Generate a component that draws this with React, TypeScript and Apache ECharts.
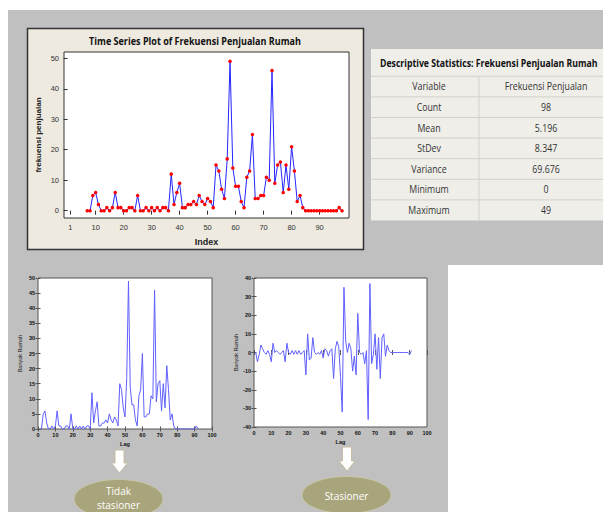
import React, { useEffect, useRef } from "react";
import * as echarts from "echarts";

// Frekuensi penjualan rumah, Index 7..98 (Minitab plot) = Lag 1..92
const frekuensi = [
  0, 0, 5, 6, 2, 0, 0, 1, 0, 1, 6, 1, 1, 0, 0, 1, 1, 0, 5, 0, 0, 1, 0, 1, 0, 1, 0, 1, 1, 0,
  12, 2, 6, 9, 1, 1, 2, 2, 3, 2, 5, 3, 2, 4, 3, 1,
  15, 13, 7, 4, 17, 49, 14, 8, 8, 3, 1, 11, 13, 25,
  4, 4, 5, 5, 11, 10, 46, 9, 15, 16, 6, 15, 7, 21, 13, 3, 5, 1,
  0, 0, 0, 0, 0, 0, 0, 0, 0, 0, 0, 0, 1, 0,
];
const firstIndex = 7;

// Differenced series, Lag 1..91
const differenced = [
  0, -5, -1, 4, 2, 0, -1, 1, -1, -5, 5, 0, 1, 0, -1, 0, 1, -5, 5, 0, -1, 1, -1, 1, -1, 1, -1, 0, 1,
  -12, 10, -4, -3, 8, 0, -1, 0, -1, 1, -3, 2, 1, -2, 1, 2,
  -14, 2, 6, 3, -13, -32, 35, 6, 0, 5, 2, -10, -2, -12, 21, 0, -1, 0, -6, 1,
  -36, 37, -6, -1, 10, -9, 8, -14, 8, 10, -2, 4, 1,
  0, 0, 0, 0, 0, 0, 0, 0, 0, 0, 0, -1, 1,
];

const topXTicks = [1, 10, 20, 30, 40, 50, 60, 70, 80, 90];
const topYTicks = [0, 10, 20, 30, 40, 50];

const statLabels = ["Variable", "Count", "Mean", "StDev", "Variance", "Minimum", "Maximum"];
const statValues = ["Frekuensi Penjualan", "98", "5.196", "8.347", "69.676", "0", "49"];

const W = 603;
const H = 512;

export default function App() {
  const ref = useRef<HTMLDivElement>(null);

  useEffect(() => {
    document.body.style.margin = "0";
    if (!ref.current) return;
    const chart = echarts.init(ref.current, undefined, { renderer: "svg", width: W, height: H });

    const sans = "'Liberation Sans', Arial, sans-serif";
    const calib = "'Open Sans', 'Noto Sans', sans-serif";

    const smallLbl = { fontSize: 5.5, fontWeight: "bold" as const, color: "#111", fontFamily: sans };

    const mirrorX = (gi: number, min: number, max: number, interval: number) => ({
      type: "value", gridIndex: gi, position: "top", min, max, interval,
      axisLine: { show: false }, axisLabel: { show: false }, splitLine: { show: false },
      axisTick: { inside: true, length: 2.5, lineStyle: { color: "#555" } },
    });
    const mirrorY = (gi: number, min: number, max: number, interval: number) => ({
      type: "value", gridIndex: gi, position: "right", min, max, interval,
      axisLine: { show: false }, axisLabel: { show: false }, splitLine: { show: false },
      axisTick: { inside: true, length: 2.5, lineStyle: { color: "#555" } },
    });

    const tableLeft = 371;
    const tableTop = 49;
    const headBottom = 76.3;
    const rowH = 20.6;
    const colSep = 479;
    const tableGraphics: any[] = [
      { type: "rect", z: -18, shape: { x: tableLeft, y: tableTop, width: W - tableLeft, height: headBottom + rowH * 7 - tableTop }, style: { fill: "#efeee9" } },
      {
        type: "text", z: 10, x: 380, y: 63.5, scaleX: 0.83,
        style: { text: "Descriptive Statistics: Frekuensi Penjualan Rumah", font: `bold 10.5px ${calib}`, fill: "#111", textVerticalAlign: "middle" },
      },
      { type: "line", z: 5, shape: { x1: colSep, y1: headBottom, x2: colSep, y2: headBottom + rowH * 7 }, style: { stroke: "#d3d1ca", lineWidth: 1 } },
    ];
    for (let k = 0; k <= 6; k++) {
      tableGraphics.push({ type: "line", z: 5, shape: { x1: tableLeft, y1: headBottom + rowH * k, x2: W, y2: headBottom + rowH * k }, style: { stroke: "#d3d1ca", lineWidth: 1 } });
    }
    statLabels.forEach((lab, k) => {
      const cy = headBottom + rowH * (k + 0.5);
      tableGraphics.push({ type: "text", z: 10, x: 429, y: cy, scaleX: 0.88, style: { text: lab, font: `10px ${calib}`, fill: "#333", textAlign: "center", textVerticalAlign: "middle" } });
      tableGraphics.push({ type: "text", z: 10, x: 546, y: cy, scaleX: 0.88, style: { text: statValues[k], font: `10px ${calib}`, fill: "#333", textAlign: "center", textVerticalAlign: "middle" } });
    });

    const arrow = (cx: number, top: number, shaftEnd: number, tip: number) => ({
      type: "polygon", z: 10,
      shape: { points: [[cx - 4.5, top], [cx + 4.5, top], [cx + 4.5, shaftEnd], [cx + 8, shaftEnd], [cx, tip], [cx - 8, shaftEnd], [cx - 4.5, shaftEnd]] },
      style: { fill: "#ffffff", stroke: "#c8bea4", lineWidth: 1 },
    });

    chart.setOption({
      animation: false,
      backgroundColor: "#ffffff",
      graphic: [
        { type: "rect", z: -20, shape: { x: 8, y: 10, width: W - 8, height: H - 10 }, style: { fill: "#c0c0c0" } },
        { type: "rect", z: -19, shape: { x: 448, y: 265, width: W - 448, height: H - 265 }, style: { fill: "#ffffff" } },
        { type: "rect", z: -18, shape: { x: 27.5, y: 28.5, width: 336, height: 221 }, style: { fill: "#eeeae0", stroke: "#333", lineWidth: 1.5 } },
        {
          type: "text", z: 10, x: 195, y: 41, scaleX: 0.86,
          style: { text: "Time Series Plot of Frekuensi Penjualan Rumah", font: `bold 10.5px ${calib}`, fill: "#111", textAlign: "center", textVerticalAlign: "middle" },
        },
        ...tableGraphics,
        arrow(119.5, 450, 463, 473),
        arrow(347, 447, 461, 471),
        { type: "ellipse", z: 10, shape: { cx: 118.5, cy: 499, rx: 44.5, ry: 19.5 }, style: { fill: "#a8a47b", stroke: "#cac7a8", lineWidth: 1 } },
        { type: "ellipse", z: 10, shape: { cx: 346.5, cy: 495, rx: 44.5, ry: 18.5 }, style: { fill: "#a8a47b", stroke: "#cac7a8", lineWidth: 1 } },
        { type: "text", z: 11, x: 118.5, y: 491, style: { text: "Tidak", font: `10px ${calib}`, fill: "#ffffff", textAlign: "center", textVerticalAlign: "middle" } },
        { type: "text", z: 11, x: 118.5, y: 504.5, style: { text: "stasioner", font: `10px ${calib}`, fill: "#ffffff", textAlign: "center", textVerticalAlign: "middle" } },
        { type: "text", z: 11, x: 346.5, y: 496, style: { text: "Stasioner", font: `10px ${calib}`, fill: "#ffffff", textAlign: "center", textVerticalAlign: "middle" } },
      ],
      grid: [
        { left: 64, top: 52, width: 285, height: 166, show: true, backgroundColor: "#ffffff", borderColor: "#333", borderWidth: 1 },
        { left: 38, top: 278, width: 174, height: 151, show: true, backgroundColor: "#ffffff", borderColor: "#555", borderWidth: 1 },
        { left: 254, top: 278, width: 173, height: 149, show: true, backgroundColor: "#ffffff", borderColor: "#555", borderWidth: 1 },
      ],
      xAxis: [
        {
          type: "value", gridIndex: 0, min: -1.3, max: 100.5,
          name: "Index", nameLocation: "middle", nameGap: 19,
          nameTextStyle: { fontSize: 9, fontWeight: "bold", color: "#222", fontFamily: sans },
          axisLine: { show: false }, splitLine: { show: false },
          axisTick: { customValues: topXTicks, length: 4, lineStyle: { color: "#333" } },
          axisLabel: { customValues: topXTicks, fontSize: 7.5, color: "#333", margin: 5, fontFamily: sans },
        },
        {
          type: "value", gridIndex: 1, min: 0, max: 100, interval: 10,
          name: "Lag", nameLocation: "middle", nameGap: 12,
          nameTextStyle: smallLbl,
          axisLine: { show: false }, splitLine: { show: false },
          axisTick: { inside: true, length: 2.5, lineStyle: { color: "#555" } },
          axisLabel: { ...smallLbl, margin: 3 },
        },
        {
          type: "value", gridIndex: 2, min: 0, max: 100, interval: 10,
          name: "Lag", nameLocation: "middle", nameGap: 12,
          nameTextStyle: smallLbl,
          axisLine: { show: false }, splitLine: { show: false },
          axisTick: { inside: true, length: 2.5, lineStyle: { color: "#555" } },
          axisLabel: { ...smallLbl, margin: 3 },
        },
        mirrorX(1, 0, 100, 10),
        mirrorX(2, 0, 100, 10),
      ],
      yAxis: [
        {
          type: "value", gridIndex: 0, min: -2.4, max: 52.07,
          name: "frekuensi penjualan", nameLocation: "middle", nameGap: 22,
          nameTextStyle: { fontSize: 8, fontWeight: "bold", color: "#222", fontFamily: sans },
          axisLine: { show: false }, splitLine: { show: false },
          axisTick: { customValues: topYTicks, length: 4, lineStyle: { color: "#333" } },
          axisLabel: { customValues: topYTicks, fontSize: 7.5, color: "#333", margin: 5, fontFamily: sans },
        },
        {
          type: "value", gridIndex: 1, min: 0, max: 50, interval: 5,
          name: "Banyak Rumah", nameLocation: "middle", nameGap: 15,
          nameTextStyle: { ...smallLbl, fontWeight: "normal" },
          axisLine: { show: false }, splitLine: { show: false },
          axisTick: { inside: true, length: 2.5, lineStyle: { color: "#555" } },
          axisLabel: { ...smallLbl, margin: 3 },
        },
        {
          type: "value", gridIndex: 2, min: -40, max: 40, interval: 10,
          name: "Banyak Rumah", nameLocation: "middle", nameGap: 15,
          nameTextStyle: { ...smallLbl, fontWeight: "normal" },
          axisLine: { show: false }, splitLine: { show: false },
          axisTick: { inside: true, length: 2.5, lineStyle: { color: "#555" } },
          axisLabel: { ...smallLbl, margin: 3 },
        },
        mirrorY(1, 0, 50, 5),
        mirrorY(2, -40, 40, 10),
      ],
      series: [
        {
          type: "line", xAxisIndex: 0, yAxisIndex: 0,
          data: frekuensi.map((v, i) => [firstIndex + i, v]),
          lineStyle: { color: "#2626ff", width: 1 },
          symbol: "circle", symbolSize: 3.5,
          itemStyle: { color: "#ff0000" },
          z: 3,
        },
        {
          type: "line", xAxisIndex: 1, yAxisIndex: 1,
          data: frekuensi.map((v, i) => [i + 1, v]),
          lineStyle: { color: "#6060ff", width: 1 },
          showSymbol: false, symbol: "none",
        },
        {
          type: "line", xAxisIndex: 2, yAxisIndex: 2,
          data: differenced.map((v, i) => [i + 1, v]),
          lineStyle: { color: "#6060ff", width: 1 },
          showSymbol: false, symbol: "none",
        },
      ],
    });

    return () => chart.dispose();
  }, []);

  return <div ref={ref} style={{ width: W, height: H }} />;
}
